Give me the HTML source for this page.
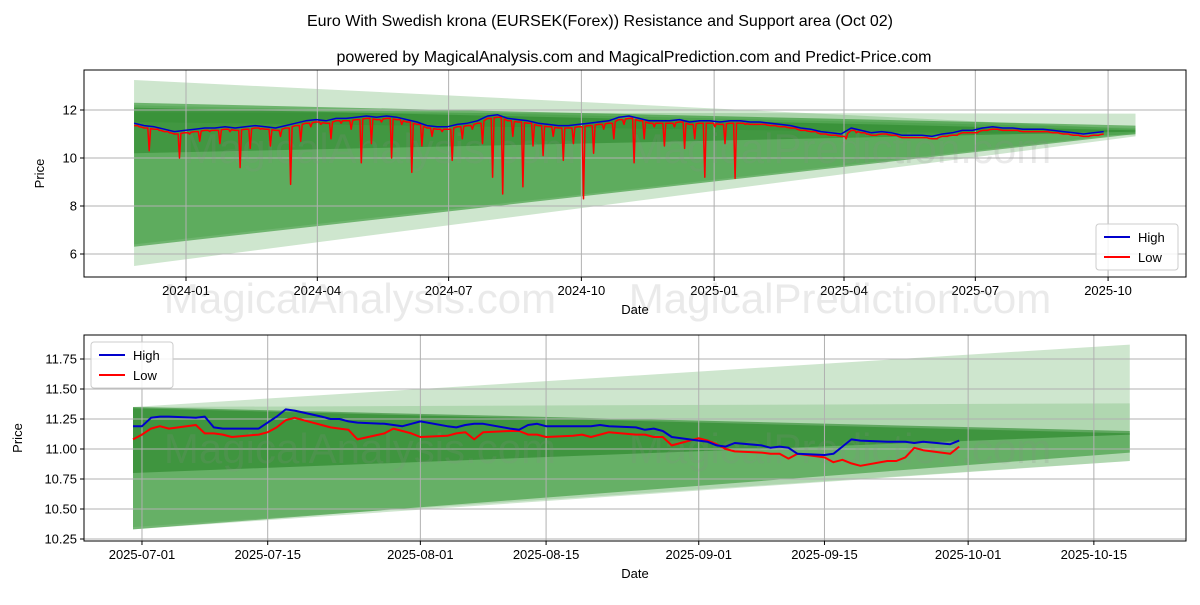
<!DOCTYPE html>
<html><head><meta charset="utf-8"><style>
body{margin:0;background:#fff;}
svg{font-family:"Liberation Sans","DejaVu Sans",sans-serif;}
</style></head><body>
<svg id="c" width="1200" height="600" xmlns="http://www.w3.org/2000/svg">
<rect width="1200" height="600" fill="#fff"/>
<text x="600" y="26" text-anchor="middle" font-size="16">Euro With Swedish krona (EURSEK(Forex)) Resistance and Support area (Oct 02)</text>
<text x="634" y="62" text-anchor="middle" font-size="16">powered by MagicalAnalysis.com and MagicalPrediction.com and Predict-Price.com</text>
<g id="top"></g>
<g id="bot"></g>
</svg>
<script>
// ---- top chart data (weekly samples from 2023-11-26) ----
const topHigh=[11.45,11.35,11.30,11.20,11.10, 11.15,11.20,11.25,11.25, 11.30,11.25,11.30,11.35, 11.30,11.25,11.35,11.45,11.55, 11.60,11.55,11.65,11.65, 11.70,11.75,11.70,11.75, 11.70,11.60,11.50,11.35,11.30, 11.30,11.40,11.45,11.55, 11.75,11.80,11.65,11.60, 11.55,11.45,11.40,11.35, 11.35,11.40,11.45,11.50,11.55, 11.70,11.75,11.65,11.55, 11.55,11.55,11.60,11.50, 11.55,11.55,11.50,11.55,11.55, 11.50,11.50,11.45,11.40, 11.35,11.25,11.20,11.10,11.05, 11.00,11.25,11.15,11.05, 11.10,11.05,10.95,10.95, 10.95,10.90,11.00,11.05,11.15, 11.15,11.25,11.30,11.25, 11.25,11.20,11.20,11.20,11.15, 11.10,11.05,11.00,11.05,11.10];
const topLow=[11.30,10.3,11.15,11.05,10.0, 11.0,10.7,11.1,10.6, 11.1,9.6,10.4,11.2, 10.5,10.9,8.9,10.7,11.3, 11.4,10.8,11.45,11.2, 9.8,10.6,11.5,10.0, 11.4,9.4,10.5,10.9,11.1, 9.9,10.8,11.2,10.6, 9.2,8.5,10.9,8.8, 10.5,10.1,10.9,9.9, 10.6,8.3,10.2,11.2,10.8, 11.4,9.8,10.8,11.3, 10.5,11.3,10.4,10.8, 9.2,11.3,10.6,9.15,11.4, 11.4,11.4,11.35,11.3, 11.25,11.15,11.1,11.0,10.95, 10.8,11.05,11.0,10.95, 11.0,10.95,10.85,10.85, 10.85,10.8,10.9,10.95,11.05, 11.05,11.15,11.2,11.15, 11.15,11.1,11.1,11.1,11.05, 11.0,10.95,10.9,10.95,11.0];
const topTicksY=[6,8,10,12];
const topTickLabelsX=["2024-01","2024-04","2024-07","2024-10","2025-01","2025-04","2025-07","2025-10"];
const topTickDatesX=["2024-01-01","2024-04-01","2024-07-01","2024-10-01","2025-01-01","2025-04-01","2025-07-01","2025-10-01"];
const topBandA=[13.25,11.2,5.5,10.9];
const topBandB=[11.9,11.85,11.5,10.95];
const topBandC=[12.3,11.35,6.3,11.0];
const topBandD=[12.2,11.25,6.4,11.05];
const topBandE=[12.1,11.15,10.2,11.1];
// ---- bottom chart data (business days from 2025-06-30) ----
const botHigh=[11.19,11.19,11.26,11.27,11.27, 11.26,11.27,11.18,11.17,11.17, 11.17,11.22,11.27,11.33,11.32, 11.27,11.25,11.25,11.23,11.22, 11.21,11.20,11.19,11.21,11.23, 11.19,11.18,11.20,11.21,11.21, 11.17,11.16,11.20,11.21,11.19, 11.19,11.19,11.19,11.20,11.19, 11.18,11.16,11.17,11.15,11.10, 11.07,11.06,11.03,11.02,11.05, 11.03,11.01,11.02,11.01,10.96, 10.95,10.96,11.02,11.08,11.07, 11.06,11.06,11.06,11.05,11.06, 11.04,11.07];
const botLow=[11.08,11.12,11.17,11.19,11.17, 11.20,11.13,11.13,11.12,11.10, 11.12,11.14,11.18,11.24,11.26, 11.20,11.18,11.17,11.16,11.08, 11.13,11.17,11.15,11.13,11.10, 11.11,11.13,11.14,11.08,11.14, 11.15,11.15,11.12,11.12,11.10, 11.11,11.12,11.10,11.12,11.14, 11.12,11.12,11.10,11.10,11.03, 11.09,11.07,11.04,11.00,10.98, 10.97,10.96,10.96,10.92,10.96, 10.93,10.89,10.91,10.88,10.86, 10.90,10.90,10.93,11.01,10.99, 10.96,11.02];
const botTicksY=[10.25,10.5,10.75,11.0,11.25,11.5,11.75];
const botTickLabelsX=["2025-07-01","2025-07-15","2025-08-01","2025-08-15","2025-09-01","2025-09-15","2025-10-01","2025-10-15"];
const botBandLight1=[11.35,11.87,10.33,10.9];
const botBandLight2=[11.35,11.38,10.35,10.9];
const botBandMed=[11.34,11.13,10.33,10.97];
const botBandDark=[11.35,11.15,10.8,11.12];

const NS="http://www.w3.org/2000/svg";
function mk(p,t,a){const e=document.createElementNS(NS,t);for(const k in a)e.setAttribute(k,a[k]);p.appendChild(e);return e;}
const DAY=86400000;
function dd(s){return Date.parse(s+"T00:00:00Z");}

function panel(g,box,ys,xs,yTicks,yFmt,xTickDates,xTickLabels,bands,xStart,xEnd,hiPts,loPts,legendPos,wm,ylabelX,lw){
  const [L,T,R,B]=box;
  bands.forEach(([b,col,op],i)=>{
    const p=mk(g,"polygon",{points:`${xStart},${ys(b[0])} ${xEnd},${ys(b[1])} ${xEnd},${ys(b[3])} ${xStart},${ys(b[2])}`,fill:col,"fill-opacity":op});
    
    
  });
  yTicks.forEach(v=>{const y=ys(v);
    const l=mk(g,"line",{x1:L,x2:R,y1:y,y2:y,stroke:"#b0b0b0","stroke-width":1});
    
    
    mk(g,"line",{x1:L-4,x2:L,y1:y,y2:y,stroke:"#000"});
    const t=mk(g,"text",{x:L-7,y:y+4.5,"text-anchor":"end","font-size":13});t.textContent=yFmt(v);
    
    
  });
  xTickDates.forEach((d,i)=>{const x=xs(dd(d));
    const l=mk(g,"line",{x1:x,x2:x,y1:T,y2:B,stroke:"#b0b0b0","stroke-width":1});
    
    
    mk(g,"line",{x1:x,x2:x,y1:B,y2:B+4,stroke:"#000"});
    const t=mk(g,"text",{x:x,y:B+18,"text-anchor":"middle","font-size":13});t.textContent=xTickLabels[i];
    
    
  });
  wm.forEach(([txt,x,y])=>{const t=mk(g,"text",{x:x,y:y,"font-size":42,fill:"#888","fill-opacity":0.18,"text-anchor":"middle"});t.textContent=txt;
    
    });
  const pl=(pts,c,n)=>{const p=mk(g,"polyline",{points:pts.map(([t,v])=>xs(t).toFixed(1)+","+ys(v).toFixed(1)).join(" "),fill:"none",stroke:c,"stroke-width":lw,"stroke-linejoin":"round"});
    
    };
  pl(loPts,"#ff0000","low-line");pl(hiPts,"#0000cc","high-line");
  const f=mk(g,"rect",{x:L,y:T,width:R-L,height:B-T,fill:"none",stroke:"#000","stroke-width":1});
  
  
  const xl=mk(g,"text",{x:(L+R)/2,y:B+37,"text-anchor":"middle","font-size":13});xl.textContent="Date";
  
  
  const yl=mk(g,"text",{x:ylabelX,y:(T+B)/2,"text-anchor":"middle","font-size":13,transform:`rotate(-90 ${ylabelX} ${(T+B)/2})`});yl.textContent="Price";
  
  
  const [lx,ly]=legendPos;
  const lg=mk(g,"g",{});
  
  
  mk(lg,"rect",{x:lx,y:ly,width:82,height:46,rx:3,fill:"#fff","fill-opacity":0.85,stroke:"#ccc"});
  [["High","#0000cc"],["Low","#ff0000"]].forEach(([n,c],i)=>{
    const e=mk(lg,"g",{});
    
    
    mk(e,"line",{x1:lx+8,x2:lx+34,y1:ly+13+i*20,y2:ly+13+i*20,stroke:c,"stroke-width":2});
    const t=mk(e,"text",{x:lx+42,y:ly+18+i*20,"font-size":13});t.textContent=n;});
}

(function(){
  const g=document.getElementById("top");
  const x0=dd("2024-01-01"),px=1.443;
  const xs=t=>186+(t-x0)/DAY*px;
  const ys=v=>110-(v-12)*24;
  const start=dd("2023-11-26");
  const hiPts=topHigh.map((v,i)=>[start+i*7*DAY,v]);
  const loPts=[];
  topLow.forEach((v,i)=>{
    const t=start+i*7*DAY;
    loPts.push([t,topHigh[i]-0.1]);
    if(i<topLow.length-1){
      loPts.push([t+2.5*DAY,topHigh[i]-0.1]);
      loPts.push([t+3.5*DAY,v]);
      loPts.push([t+4.5*DAY,(topHigh[i]+topHigh[i+1])/2-0.1]);
    }
  });
  const xE=xs(dd("2025-10-20"));
  const xS=xs(start);
  panel(g,[84,70,1186,277],ys,xs,topTicksY,v=>String(v),topTickDatesX,topTickLabelsX,
    [[topBandA,"#3a9a3a",0.25],[topBandB,"#3a9a3a",0.25],[topBandC,"#1f8a1f",0.55],[topBandD,"#1f8a1f",0.2],[topBandE,"#1f7f1f",0.45]],
    xS,xE,hiPts,loPts,[1096,224],
    [["MagicalAnalysis.com",380,163],["MagicalPrediction.com",840,163],["MagicalAnalysis.com",360,313],["MagicalPrediction.com",840,313]],44,1.5);
})();
(function(){
  const g=document.getElementById("bot");
  const x0=dd("2025-06-30"),px=8.98;
  const xs=t=>133+(t-x0)/DAY*px;
  const ys=v=>449-(v-11)*120;
  const dates=[];let t=x0;
  while(dates.length<botHigh.length){const wd=new Date(t).getUTCDay();if(wd!==0&&wd!==6)dates.push(t);t+=DAY;}
  panel(g,[84,335,1186,541],ys,xs,botTicksY,v=>v.toFixed(2),botTickLabelsX,botTickLabelsX,
    [[botBandLight1,"#3a9a3a",0.25],[botBandLight2,"#3a9a3a",0.2],[botBandMed,"#2a8f2a",0.55],[botBandDark,"#1f7f1f",0.55]],
    133,xs(dd("2025-10-19")),botHigh.map((v,i)=>[dates[i],v]),botLow.map((v,i)=>[dates[i],v]),[91,342],
    [["MagicalAnalysis.com",360,463],["MagicalPrediction.com",840,463]],22,2);
})();
</script>
</body></html>
